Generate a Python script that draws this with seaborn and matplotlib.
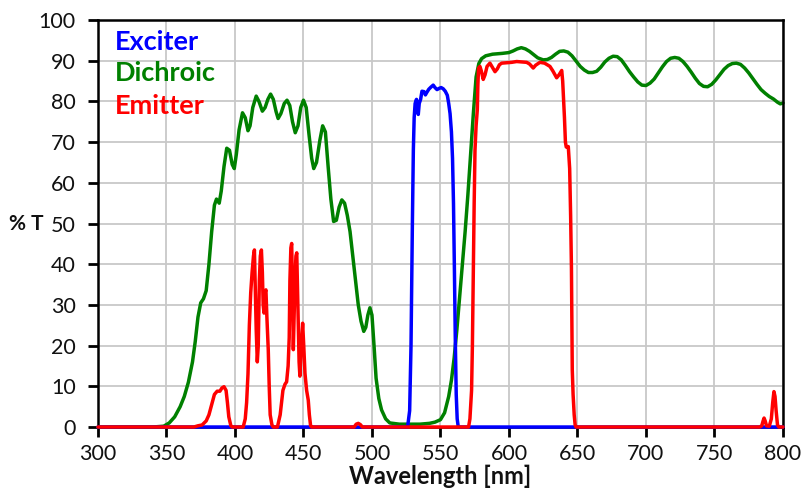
import matplotlib
matplotlib.use("Agg")
import matplotlib.pyplot as plt
import pandas as pd
import seaborn as sns

# Transmission spectra (%T vs wavelength in nm) of a filter set
exciter_nm = [300, 526, 527.5, 528.5, 529.5, 530.2, 530.8, 531.5, 532.5, 533.3, 533.8,
              534.5, 535.5, 536.5, 538, 539, 540, 541.5, 543, 544.7, 546, 547.5, 549,
              550.5, 552, 553.5, 555, 556, 557, 558, 558.8, 559.5, 560.2, 560.8, 561.5,
              562.2, 563, 800]
exciter_t = [0, 0, 4, 20, 50, 68, 76, 79.5, 80.5, 78, 76.8,
             79.5, 80.5, 82.5, 82.4, 81.6, 82.2, 83, 83.5, 84, 83.4, 82.9, 83.2,
             83.4, 83.1, 82.5, 81.5, 79.5, 77, 72.5, 66, 55, 38, 22, 8,
             2, 0, 0]

dichroic_nm = [300, 340, 348, 352, 356, 360, 363, 366, 369, 371, 373, 375, 377, 379, 381,
               383, 385, 386.5, 388.5, 390, 392, 394, 396, 398, 399.5, 401, 403, 405.5,
               407.5, 409.5, 411, 413, 415.5, 417.5, 420, 422, 424, 426, 428, 430, 431.5,
               433.5, 436, 438, 440, 442, 444, 446, 448, 450, 452, 454, 456, 457.5, 459.5,
               462, 464, 466, 468, 470, 472, 474, 476, 478, 480, 482, 484, 486, 488, 490,
               492, 494, 495.5, 497, 498.5, 500, 501.5, 503, 505, 507, 510, 513, 520, 535,
               542, 546, 550, 553, 556, 558, 560, 562, 564, 566, 568, 570, 572, 574, 576,
               578, 580, 583, 588, 595, 600, 603, 606, 609, 612, 615, 618, 621, 625, 628,
               631, 634, 637, 640, 643, 646, 649, 652, 655, 658, 661, 664, 667, 670, 673,
               676, 679, 682, 685, 688, 691, 694, 697, 700, 703, 706, 709, 712, 715, 718,
               721, 724, 727, 730, 733, 736, 739, 742, 745, 748, 751, 754, 757, 760, 763,
               766, 769, 772, 775, 778, 781, 784, 787, 790, 793, 796, 798, 800]
dichroic_t = [0, 0, 0.2, 1, 2.5, 5, 7.5, 11, 16, 21, 27, 30.5, 31.5, 33.5, 40,
              48, 54.5, 56, 55, 58, 64, 68.5, 68, 64.5, 63.5, 67, 73, 77.2,
              76, 72.8, 74, 78.5, 81.3, 80, 77.6, 78.5, 80.5, 81.8, 80.5, 77.5, 75.8,
              77, 79.5, 80.3, 79, 75, 72.3, 74, 78.5, 80.3, 78.5, 72, 66, 63.5, 65,
              70.5, 74, 72.5, 64, 56, 50.5, 50.8, 54, 55.8, 55, 52, 48, 42, 36, 30,
              26, 23.5, 24.5, 27.5, 29.3, 27.5, 20, 12, 7, 4.2, 2, 1, 0.7, 0.7,
              0.9, 1.2, 1.8, 3.5, 7.5, 11.5, 17, 24, 32, 40, 48, 57, 67, 77, 86,
              89.3, 90.5, 91.2, 91.6, 91.8, 92, 92.4, 92.9, 93.2, 92.9, 92.3, 91.5, 90.7, 90.2, 90.3,
              90.8, 91.6, 92.3, 92.4, 92.1, 91.2, 89.9, 88.6, 87.7, 87.1, 87.1, 87.4, 88.4, 89.7, 90.6,
              91.1, 91.0, 90.2, 88.8, 87.3, 86, 84.8, 84, 83.9, 84.5, 85.5, 87, 88.5, 89.8, 90.6,
              90.8, 90.6, 89.8, 88.6, 87.2, 85.7, 84.4, 83.7, 83.6, 84.2, 85.3, 86.6, 87.9, 88.8, 89.3,
              89.4, 89.1, 88.2, 87, 85.6, 84.2, 82.9, 82, 81.2, 80.6, 79.8, 79.4, 79.6]

emitter_nm = [300, 370, 373, 376, 379, 381, 383, 385, 387, 389, 390.5, 392, 393.5, 394.5,
              395.5, 397, 398, 406, 407.5, 408.5, 409.5, 410.5, 411.5, 412.5, 413.5, 414.2,
              414.8, 415.5, 416.3, 417, 417.8, 418.5, 419.3, 420, 420.6, 421.2, 421.8, 422.6,
              423.3, 424.3, 425, 425.7, 427, 428, 431, 433, 435, 436.5, 437.7, 438.8, 439.6,
              440.1, 440.8, 441.4, 441.9, 442.6, 443.2, 443.8, 444.5, 445.1, 445.7, 446.2,
              446.8, 447.4, 448.2, 449.4, 450.2, 451.1, 452.3, 453.5, 454.3, 455.2, 456, 487,
              488.5, 490, 491.5, 493, 570.5, 571.5, 572.7, 573.3, 573.9, 574.6, 575.2, 576,
              576.9, 577.3, 577.8, 578.8, 579.8, 581.2, 582.5, 584, 586.1, 587.5, 589.8, 591.5,
              593, 594.7, 598, 602, 605.6, 609, 612.9, 615, 617.7, 619.5, 622.6, 626, 629.9,
              632, 634.8, 636.5, 638.5, 639.2, 639.8, 640.5, 641.2, 641.8, 643.3, 644.3, 645,
              645.6, 645.9, 646.2, 646.8, 647.6, 648.3, 649, 783, 784.5, 785.5, 786.2, 787,
              788, 790, 791.5, 792.5, 793.4, 794.2, 795, 796, 797, 800]
emitter_t = [0, 0, 0.3, 0.5, 1.5, 3, 5.5, 8, 8.8, 8.8, 9.6, 9.9, 9, 6,
             2.5, 0.3, 0, 0, 2, 6, 13, 25, 33, 38, 42, 43.5,
             35, 24, 16, 20, 36, 42, 43.5, 38, 30, 28, 33, 33.7,
             27, 19, 10, 3, 0.5, 0, 0, 3, 9, 10.5, 11.1, 15, 22,
             36, 44, 45.1, 35, 19, 28, 36, 42, 42.8, 33, 24,
             16, 12.5, 19, 25.5, 20, 13.2, 9, 6.6, 3, 0.3, 0, 0,
             0.7, 0.9, 0.6, 0, 0, 2, 9, 20, 36, 55, 68, 74,
             78, 84, 88.2, 88.6, 87.5, 85.4, 86.5, 88.6, 89.4, 88.6, 87.3, 88,
             89, 89.4, 89.5, 89.6, 89.8, 89.7, 89.6, 89.2, 88.2, 88.9, 89.6, 89.4, 88.6,
             87.5, 85.8, 86.5, 87.6, 85, 81, 76, 70, 68.8, 68.9, 63.5, 52,
             39, 25, 14, 8, 3, 0.5, 0, 0, 0.3, 1.5, 2.2, 1.5,
             0.3, 0.2, 2, 6, 8.7, 7.5, 4, 0.5, 0, 0]

series_names = ["Exciter", "Dichroic", "Emitter"]
series_colors = {"Exciter": "#0000ff", "Dichroic": "#008000", "Emitter": "#ff0000"}

x_ticks = list(range(300, 801, 50))
y_ticks = list(range(0, 101, 10))

frames = [
    pd.DataFrame({"nm": exciter_nm, "T": exciter_t, "filter": "Exciter"}),
    pd.DataFrame({"nm": dichroic_nm, "T": dichroic_t, "filter": "Dichroic"}),
    pd.DataFrame({"nm": emitter_nm, "T": emitter_t, "filter": "Emitter"}),
]

sns.set_theme(style="whitegrid")
plt.rcParams["font.family"] = ["Lato", "DejaVu Sans"]

fig = plt.figure(figsize=(8.01, 4.94), dpi=100)
ax = fig.add_axes([0.1223, 0.1356, 0.8552, 0.8239])

# green underneath, then blue, red on top
draw_order = {"Dichroic": 2, "Exciter": 3, "Emitter": 4}
for df in frames:
    name = df["filter"].iloc[0]
    sns.lineplot(data=df, x="nm", y="T", ax=ax, color=series_colors[name],
                 linewidth=2.5, estimator=None, sort=False, legend=False,
                 zorder=draw_order[name], clip_on=False)

ax.set_xlim(300, 800)
ax.set_ylim(0, 100)
ax.set_xticks(x_ticks)
ax.set_yticks(y_ticks)

ax.grid(True, color="#c8c8c8", linewidth=1.3)
ax.set_axisbelow(True)
for side in ["left", "right", "top", "bottom"]:
    ax.spines[side].set_color("black")
    ax.spines[side].set_linewidth(1.8)
    ax.spines[side].set_visible(True)

ax.tick_params(axis="both", which="major", bottom=True, left=True, direction="out",
               length=7, width=2, color="black", labelsize=15.5, labelcolor="#111111")
ax.tick_params(axis="x", pad=5)
ax.tick_params(axis="y", pad=9)

ax.set_xlabel("Wavelength [nm]", fontsize=17, fontweight="bold", labelpad=1, color="#111111")
ax.set_ylabel("% T", fontsize=15, fontweight="bold", rotation=0, color="#111111",
              ha="center", va="center")
ax.yaxis.set_label_coords(-0.104, 0.5)

# colored series names in the upper left corner
label_y = [0.946, 0.870, 0.789]
for name, yy in zip(series_names, label_y):
    ax.text(0.024, yy, name, transform=ax.transAxes, color=series_colors[name],
            fontsize=19.5, fontweight="bold", ha="left", va="center", zorder=6)

fig.savefig("out.png", dpi=100)
